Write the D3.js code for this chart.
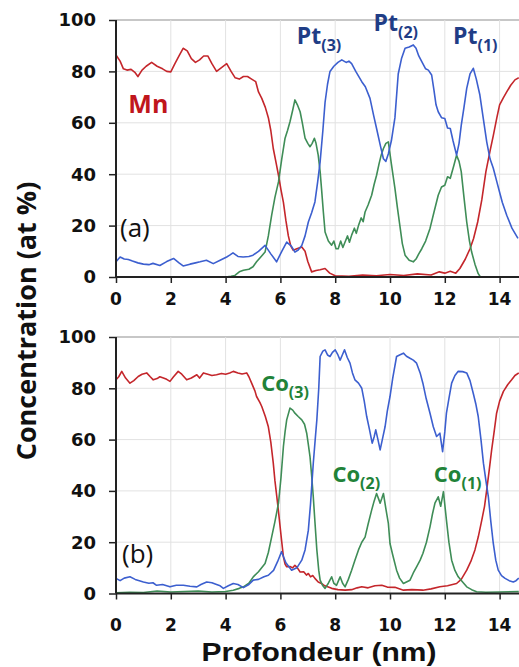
<!DOCTYPE html>
<html><head><meta charset="utf-8">
<script src="https://cdn.jsdelivr.net/npm/d3@7"></script>
<style>
html,body{margin:0;padding:0;background:#fff;}
svg{display:block;}
</style></head>
<body>
<svg id="chart" width="519" height="667"></svg>
<script>
// ---------- DATA ----------
const xTicks = [0, 2, 4, 6, 8, 10, 12, 14];
const yTicks = [0, 20, 40, 60, 80, 100];
const xTitle = "Profondeur (nm)";
const yTitle = "Concentration (at %)";

// Panel (a) : [depth nm, at %]
const mnA = [[0,86.4],[0.15,84],[0.27,81],[0.4,80.5],[0.55,80.8],[0.7,79.5],[0.8,78],[0.95,80.5],[1.1,82],[1.3,83.5],[1.5,82],[1.7,81],[1.85,80],[2.0,79.8],[2.15,83],[2.3,86],[2.45,89],[2.6,88],[2.75,85],[2.9,83.5],[3.05,84.5],[3.2,86],[3.35,86],[3.5,83],[3.67,80],[3.85,81.5],[4.04,83],[4.2,80],[4.35,77.5],[4.5,77],[4.65,78],[4.8,78],[4.95,77],[5.1,76],[5.2,72],[5.32,69.5],[5.45,66],[5.56,62],[5.65,57],[5.74,50],[5.85,44],[5.93,39.6],[6.02,34],[6.11,29],[6.2,22],[6.29,16],[6.38,12],[6.47,10.4],[6.6,11],[6.78,11.7],[6.9,10],[7.0,6],[7.14,2],[7.3,2.5],[7.45,2.8],[7.63,3.3],[7.8,1.5],[8.0,0.5],[8.5,0.3],[9.0,0.8],[9.5,0.5],[10.0,1],[10.5,0.6],[11.0,1.2],[11.5,0.8],[11.8,2],[12.0,1.5],[12.2,2.2],[12.4,1.5],[12.55,3.3],[12.75,7],[12.92,11],[13.05,15],[13.2,21.4],[13.35,30],[13.5,41],[13.65,49],[13.77,55],[13.9,62],[14.0,67],[14.15,70],[14.26,72],[14.4,74.5],[14.56,76.7],[14.7,77.5]];
const ptA = [[0,5.9],[0.15,7.8],[0.3,7],[0.45,6.8],[0.6,6.2],[0.8,5.5],[1.0,5],[1.2,4.8],[1.35,5.3],[1.6,4.5],[1.85,6],[2.1,7.2],[2.3,5.5],[2.45,4.3],[2.7,5],[2.9,5.5],[3.07,5.9],[3.3,6.5],[3.55,5.2],[3.8,6.5],[4.04,7.8],[4.15,8.5],[4.27,9.4],[4.45,8],[4.64,7.8],[4.85,8],[5.0,8.5],[5.2,10],[5.44,12.3],[5.65,9],[5.86,5.9],[6.05,10],[6.23,13.6],[6.4,12],[6.53,9.7],[6.65,10.5],[6.78,12.3],[6.9,16],[7.02,21.4],[7.14,25],[7.26,29.2],[7.36,37],[7.45,44.8],[7.55,57],[7.63,68],[7.72,75],[7.81,80],[7.95,82],[8.1,83.5],[8.24,84.5],[8.4,83.5],[8.5,84],[8.6,83],[8.75,80],[8.97,76],[9.1,74],[9.27,69.5],[9.4,63],[9.51,57.8],[9.65,51],[9.76,46],[9.85,45],[9.94,48],[10.05,53],[10.18,62],[10.3,79],[10.42,85],[10.55,89],[10.7,89.5],[10.85,90.3],[10.95,89],[11.05,86],[11.16,83.8],[11.3,81],[11.4,80.5],[11.52,78.6],[11.6,73],[11.68,67],[11.76,64.3],[11.88,62],[12.0,61.7],[12.1,58],[12.2,57.8],[12.3,53],[12.43,47.4],[12.52,52],[12.6,59],[12.7,66],[12.8,73.4],[12.92,79],[13.04,81.2],[13.15,77],[13.28,70.8],[13.4,62],[13.53,52.6],[13.65,46],[13.77,42.3],[13.9,37],[14.0,33],[14.1,29],[14.26,24],[14.45,19],[14.67,15]];
const coA = [[0,0],[1,0],[2,0],[3,0],[4,0],[4.2,0.3],[4.34,0.6],[4.5,2],[4.65,2.6],[4.85,3],[5.0,4],[5.13,5.9],[5.3,8],[5.44,9.7],[5.56,16],[5.68,24],[5.8,31],[5.93,37],[6.05,46],[6.17,54],[6.26,57],[6.35,60.4],[6.45,65],[6.53,68.9],[6.62,67],[6.72,64.3],[6.8,60],[6.9,54],[7.0,52],[7.08,50.7],[7.16,52],[7.24,54],[7.3,52],[7.38,47.4],[7.45,41],[7.5,34.5],[7.57,25],[7.63,17.5],[7.75,14],[7.87,12.4],[7.95,14],[8.03,11],[8.11,11],[8.2,14],[8.28,11.5],[8.36,13.6],[8.45,16],[8.52,13.5],[8.6,16.3],[8.7,19],[8.77,17],[8.85,20],[8.95,23],[9.02,21.5],[9.09,25.3],[9.2,28],[9.33,31.8],[9.42,36],[9.51,39.6],[9.6,44],[9.68,47.5],[9.76,50],[9.85,52],[9.94,52.6],[10.05,44],[10.18,34.5],[10.27,27],[10.36,20],[10.45,13],[10.55,8.5],[10.7,6.5],[10.85,5.9],[10.95,7],[11.05,9],[11.16,11],[11.3,14],[11.46,18.9],[11.6,25],[11.76,31.8],[11.88,35],[12.0,35.7],[12.1,39],[12.2,38.4],[12.32,43],[12.43,47.4],[12.52,45],[12.6,41],[12.7,31],[12.8,21.4],[12.9,14],[12.98,9.7],[13.1,5],[13.22,1.3],[13.3,0],[14.7,0]];

// Panel (b)
const mnB = [[0,83.3],[0.1,84.5],[0.21,86.6],[0.35,84],[0.51,82],[0.65,83],[0.81,84.6],[0.95,85.5],[1.12,86],[1.25,84.5],[1.36,83.3],[1.5,83.8],[1.6,84.5],[1.73,84],[1.85,83.5],[1.97,82.7],[2.1,84.5],[2.27,86.6],[2.4,85.5],[2.58,83.3],[2.75,84],[2.95,85.3],[3.05,84],[3.19,86],[3.35,85.5],[3.5,85],[3.67,85.3],[3.85,85.8],[4.0,85.5],[4.15,86],[4.28,86.6],[4.45,86],[4.6,85.6],[4.77,86],[4.85,84.5],[4.95,82],[5.07,79],[5.13,76.8],[5.25,74.5],[5.32,72.9],[5.45,69],[5.56,65],[5.65,59],[5.74,50.8],[5.8,44],[5.87,37.7],[5.93,32],[5.99,26],[6.05,20],[6.11,14.3],[6.17,11.5],[6.23,10.4],[6.35,10.5],[6.45,10],[6.53,11],[6.62,10],[6.72,8.4],[6.85,8.5],[6.95,7.2],[7.02,7.8],[7.1,6.5],[7.18,7],[7.26,5.9],[7.38,4.5],[7.5,3.9],[7.62,3],[7.75,2.5],[7.87,2],[8.1,1.5],[8.36,1.3],[8.6,1.5],[8.8,2.2],[8.97,2.6],[9.2,2.2],[9.45,3],[9.7,3.2],[9.9,2.5],[10.18,2.4],[10.49,1.3],[10.8,1.5],[11.2,1.3],[11.5,1.8],[11.82,2.6],[12.1,3],[12.43,3.9],[12.6,5.5],[12.8,9.1],[12.95,12.5],[13.1,17],[13.22,22],[13.35,28.6],[13.45,34],[13.53,40.4],[13.62,48],[13.71,56],[13.8,63],[13.89,70.3],[14.0,75],[14.14,78.8],[14.3,81.5],[14.44,83.3],[14.56,85],[14.7,86]];
const ptB = [[0,5.9],[0.15,5],[0.3,6],[0.51,6.5],[0.7,5.5],[0.85,5],[1.0,4.5],[1.2,4],[1.35,4.2],[1.48,3.2],[1.7,3.5],[1.85,3],[1.97,2.6],[2.2,3.2],[2.46,3.2],[2.7,2.8],[2.95,2.6],[3.1,3.5],[3.31,4.5],[3.5,4.2],[3.67,3.5],[3.8,3],[3.92,2],[4.1,3],[4.28,3.9],[4.45,3.5],[4.65,2.3],[4.85,3.5],[5.01,5.2],[5.2,5.5],[5.4,6.5],[5.56,7.1],[5.75,9],[5.9,12.5],[6.04,16.3],[6.2,12],[6.41,9.1],[6.6,10],[6.78,13],[6.9,17],[7.02,24.7],[7.1,35],[7.2,50.8],[7.27,60],[7.33,67.7],[7.4,80],[7.45,92.4],[7.55,94.5],[7.63,95],[7.72,93],[7.81,92.4],[7.9,94],[8.0,95],[8.1,93],[8.18,91],[8.26,93],[8.34,95],[8.44,92],[8.54,89.8],[8.63,86],[8.72,83.3],[8.85,82],[8.97,80],[9.06,75],[9.15,69],[9.25,64],[9.35,58.6],[9.42,61],[9.48,63.8],[9.56,60],[9.64,56],[9.72,60],[9.82,65],[9.9,71],[10.0,76.8],[10.1,84],[10.24,92.4],[10.35,93],[10.49,93.7],[10.6,92.5],[10.73,91.7],[10.85,91],[10.97,89.8],[11.1,86],[11.2,82],[11.32,76],[11.46,70.3],[11.58,65],[11.7,61.2],[11.82,62.5],[11.92,55.3],[12.0,63],[12.06,70.3],[12.15,76],[12.25,82],[12.37,85],[12.49,86.6],[12.65,86.5],[12.8,86],[12.92,83],[13.04,78],[13.13,74],[13.22,69],[13.32,60],[13.41,50.8],[13.5,44],[13.59,37.7],[13.68,28],[13.77,19.5],[13.86,13],[13.95,9.1],[14.07,7],[14.2,5.9],[14.35,5],[14.5,4.5],[14.6,5],[14.7,6]];
const coB = [[0,0.3],[0.5,0.5],[1.0,0.4],[1.5,1],[2.0,0.6],[2.5,0.8],[3.0,1],[3.5,0.6],[4.0,0.8],[4.28,1.3],[4.5,2],[4.65,2.6],[4.85,4],[5.01,6.5],[5.2,8.5],[5.44,11.7],[5.56,16],[5.68,22],[5.8,28],[5.93,35.2],[6.02,45],[6.11,57.3],[6.17,63],[6.23,67.7],[6.35,72.3],[6.45,71.5],[6.53,70.3],[6.65,69],[6.78,67.7],[6.88,66],[6.96,62.5],[7.02,58],[7.08,53.4],[7.14,46],[7.2,37.7],[7.26,28],[7.33,17],[7.4,9],[7.45,5.2],[7.55,3],[7.63,2],[7.75,4],[7.87,6.5],[7.95,4],[8.05,3.2],[8.12,5],[8.18,6.5],[8.27,4],[8.36,2.6],[8.48,5.5],[8.6,9.1],[8.72,13],[8.85,17],[8.97,20],[9.09,22],[9.2,27],[9.33,32.5],[9.42,36],[9.51,39],[9.58,37],[9.64,35.2],[9.7,37],[9.76,39],[9.85,33],[9.94,27.3],[10.0,19.5],[10.1,15],[10.24,9.1],[10.35,6],[10.49,3.9],[10.6,4.5],[10.73,5.2],[10.85,8],[10.97,10.4],[11.1,13],[11.2,15.6],[11.33,20],[11.46,26],[11.55,31],[11.64,35.2],[11.76,37.7],[11.85,34],[11.95,39.7],[12.06,28.6],[12.15,20],[12.25,13],[12.37,9],[12.49,6.5],[12.65,4.5],[12.8,2.6],[12.98,1.5],[13.16,0.7],[13.5,0.5],[14.0,0.6],[14.7,0.8]];

// Annotations: [label, subscript, depth, value]
const labelsA = [["Mn","",0.45,64],["Pt","(3)",6.6,90.6],["Pt","(2)",9.4,95.6],["Pt","(1)",12.3,90.6]];
const labelsB = [["Co","(3)",5.3,78.8],["Co","(2)",7.9,43.6],["Co","(1)",11.6,43.6]];

// ---------- STYLE ----------
const C = { mn:"#c4262b", pt:"#3c5fcf", co:"#3f8d57", mnText:"#c0161c", ptText:"#1f3d86", coText:"#218238" };
const tickFont = "'DejaVu Sans', sans-serif";
const titleFont = "'Open Sans', sans-serif";

const svg = d3.select("#chart");
const x = d3.scaleLinear().domain([0, 15]).range([116, 527]);
const panels = [
  { y: d3.scaleLinear().domain([0,100]).range([277, 20]), series:[[mnA,C.mn],[coA,C.co],[ptA,C.pt]], tag:"(a)", tagPos:[120,237], labels:labelsA, tickY:305 },
  { y: d3.scaleLinear().domain([0,100]).range([593.5, 337]), series:[[mnB,C.mn],[coB,C.co],[ptB,C.pt]], tag:"(b)", tagPos:[122,563], labels:labelsB, tickY:631 }
];

panels.forEach((p, i) => {
  const g = svg.append("g");
  const y = p.y;
  // grid
  g.append("g").selectAll("line").data(yTicks).join("line")
    .attr("x1", x(0)).attr("x2", 519).attr("y1", d => y(d)).attr("y2", d => y(d))
    .attr("stroke", d => d === 100 ? "#b5b5b5" : "#e2e2e2").attr("stroke-width", d => d === 100 ? 1.5 : 1);
  g.append("g").selectAll("line").data(xTicks.filter(d => d > 0)).join("line")
    .attr("x1", d => x(d)).attr("x2", d => x(d)).attr("y1", y(0)).attr("y2", y(100))
    .attr("stroke", "#e2e2e2").attr("stroke-width", 1);

  // lines
  const clipId = "clip" + i;
  svg.append("clipPath").attr("id", clipId).append("rect")
    .attr("x", x(0)).attr("y", y(100) - 2).attr("width", 519 - x(0)).attr("height", y(0) - y(100) + 2);
  const line = d3.line().x(d => x(d[0])).y(d => y(d[1])).curve(d3.curveLinear);
  const lg = g.append("g").attr("clip-path", `url(#${clipId})`);
  p.series.forEach(([data, col]) => {
    lg.append("path").datum(data).attr("d", line)
      .attr("fill", "none").attr("stroke", col).attr("stroke-width", 1.6).attr("stroke-linejoin", "round");
  });

  // axes
  const ax = g.append("g").attr("transform", `translate(0,${y(0)})`)
    .call(d3.axisBottom(x).tickValues(xTicks).tickSize(6).tickFormat(""));
  ax.select(".domain").attr("d", `M${x(0)},0H519`).attr("stroke", "#222").attr("stroke-width", 2);
  ax.selectAll(".tick line").attr("stroke", "#222").attr("stroke-width", 1.5);
  const ay = g.append("g").attr("transform", `translate(${x(0)},0)`)
    .call(d3.axisLeft(y).tickValues(yTicks).tickSize(7).tickFormat(""));
  ay.select(".domain").attr("d", `M0,${y(100)}V${y(0)}`).attr("stroke", "#222").attr("stroke-width", 2);
  ay.selectAll(".tick line").attr("stroke", "#222").attr("stroke-width", 1.5);

  // tick labels
  g.append("g").selectAll("text").data(yTicks).join("text")
    .attr("x", 96).attr("y", d => y(d)).attr("dy", "0.36em")
    .attr("text-anchor", "end").attr("font-family", tickFont).attr("font-weight", "bold")
    .attr("font-size", 18).attr("fill", "#111").text(d => d);
  g.append("g").selectAll("text").data(xTicks).join("text")
    .attr("x", d => x(d)).attr("y", p.tickY)
    .attr("text-anchor", "middle").attr("font-family", tickFont).attr("font-weight", "bold")
    .attr("font-size", 17).attr("fill", "#111").text(d => d);

  // panel tag
  g.append("text").attr("x", p.tagPos[0]).attr("y", p.tagPos[1])
    .attr("font-family", titleFont).attr("font-size", 26).attr("fill", "#111").text(p.tag);

  // series labels
  p.labels.forEach(([main, sub, dx, dv]) => {
    const isMn = main === "Mn";
    const col = main === "Mn" ? C.mnText : main === "Pt" ? C.ptText : C.coText;
    const t = g.append("text").attr("x", x(dx)).attr("y", y(dv))
      .attr("font-family", titleFont).attr("font-weight", "bold").attr("fill", col)
      .attr("font-size", isMn ? 25 : (main === "Pt" ? 23 : 22));
    t.append("tspan").text(main);
    if (sub) t.append("tspan").attr("dy", 7).attr("font-size", 16).text(sub);
  });
});

// axis titles
svg.append("text").attr("x", 319).attr("y", 661).attr("text-anchor", "middle")
  .attr("font-family", "'Liberation Sans', Arial, sans-serif").attr("font-weight", "bold").attr("font-size", 26)
  .attr("textLength", 235).attr("lengthAdjust", "spacingAndGlyphs").attr("fill", "#111").text(xTitle);
svg.append("text").attr("transform", "translate(36,321) rotate(-90)").attr("text-anchor", "middle")
  .attr("font-family", titleFont).attr("font-weight", "bold").attr("font-size", 27).attr("fill", "#111").text(yTitle);
</script>
</body></html>
